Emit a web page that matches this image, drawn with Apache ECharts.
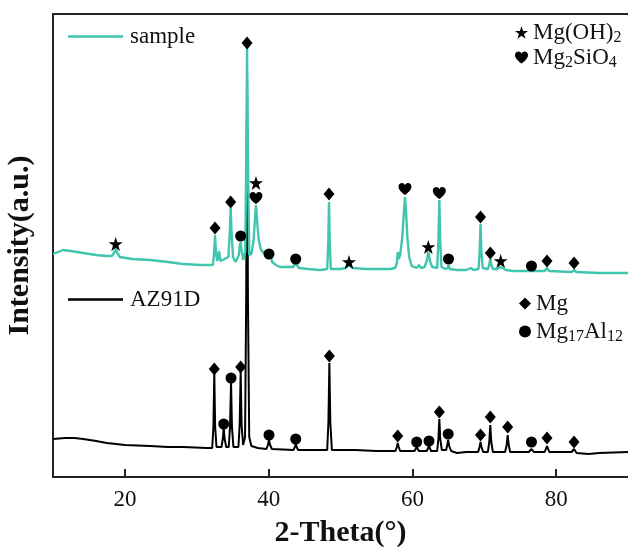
<!DOCTYPE html>
<html><head><meta charset="utf-8">
<script src="https://cdn.jsdelivr.net/npm/echarts@6/dist/echarts.min.js"></script>
<style>html,body{margin:0;padding:0;background:#fff}#c{width:628px;height:549px}</style>
</head><body><div id="c"></div>
<script>
const xTicks = [20, 40, 60, 80];

const az91d = [
[10.0,38],[11.7,39],[13,39],[14.2,38],[16,36],[17.5,34],[20,32],[23.5,31],[26,30],[28.1,30],[31.4,29],
[32.15,29],[32.32,50],[32.44,104],[32.56,50],[32.75,30],
[33.45,30],[33.62,38],[33.75,49],[33.88,38],[34.1,30],
[34.45,30],[34.63,50],[34.77,95],[34.9,50],[35.1,30],
[35.8,30],[35.97,52],[36.11,105],[36.24,52],[36.45,32],
[36.72,40],[36.88,180],[37.0,400],[37.12,180],[37.3,40],[37.6,31],[38.5,29],[39.7,28],[39.9,32],[40.05,37],[40.2,32],[40.45,28],
[43.45,27],[43.65,30],[43.77,33],[43.9,30],[44.1,27],[46,27],
[48.15,27],[48.32,55],[48.45,114],[48.58,55],[48.8,27],
[52,27],[55,26],[57.65,26],[57.84,30],[57.96,34],[58.1,30],[58.3,26],[60.3,26],[60.6,30],[60.9,26],[62.0,26],[62.31,31],[62.6,26],
[63.45,26],[63.62,38],[63.75,58],[63.88,38],[64.1,27],[64.7,27],[64.85,32],[64.98,37],[65.12,31],[65.4,26],[66.2,24],[67.5,25],
[69.15,25],[69.35,30],[69.48,35],[69.62,30],[69.85,25],[70.5,25],[70.7,35],[70.84,52],[70.98,35],[71.2,25],
[72.9,25],[73.12,32],[73.26,42],[73.4,32],[73.6,25],[76.2,25],[76.57,28],[76.9,25],[78.4,25],[78.73,31],[79.05,25],
[82.15,25],[82.49,28],[82.85,24],[84.5,23],[86,24],[90,25]
];

const sample = [
[10.0,223],[11.4,227],[12.5,226],[14.2,224],[16.0,222],[17.5,221],[18.2,221],[18.5,224],[18.72,229],[18.95,224],[19.3,220],
[21,218],[23.5,217],[26,215],[28.1,213],[30.5,212],[32.25,212],
[32.42,225],[32.54,242],[32.66,225],[32.85,216],[33.1,226],[33.3,216],[33.55,215],
[34.4,220],[34.6,245],[34.72,269],[34.84,245],[35.05,220],[35.4,215],
[35.85,222],[36.0,232],[36.11,235],[36.22,228],[36.45,217],
[36.75,225],[36.9,330],[37.0,429],[37.1,330],[37.3,222],
[37.6,223],[37.9,236],[38.1,258],[38.24,272],[38.38,258],[38.6,238],[38.9,228],[39.3,224],[39.7,222],[39.95,225],[40.05,226],[40.2,222],[40.5,215],
[41.0,212],[41.6,210],[43.4,210],[43.65,212],[43.77,214],[43.9,212],[44.2,209],[45.5,208],[47.15,207],
[48.15,208],[48.3,235],[48.4,275],[48.5,235],[48.65,208],
[50.0,208],[50.7,209],[51.18,212],[51.7,209],[53.5,208],[56.9,208],
[57.6,209],[57.85,214],[57.96,225],[58.1,218],[58.3,222],[58.6,240],[58.85,268],[58.97,280],[59.1,268],[59.3,240],[59.55,220],[59.9,211],
[60.6,209],[60.92,212],[61.2,209],
[61.7,210],[62.0,216],[62.22,225],[62.45,216],[62.75,210],[63.45,209],[63.62,235],[63.75,277],[63.88,235],[64.05,210],
[64.6,208],[64.9,209],[65.03,212],[65.2,208],[66.2,207],[67.5,207],[68.16,209],[68.5,207],
[69.2,208],[69.36,225],[69.48,253],[69.6,225],[69.8,209],[70.5,208],[70.7,212],[70.84,218],[70.98,212],[71.2,208],
[71.8,208],[72.1,210],[72.29,212],[72.55,209],[73.0,207],[74.0,206],[76.57,206],[78.4,206],[78.73,209],[79.0,206],
[82.2,205],[82.49,207],[82.8,205],[86,204],[90,204]
];

const mgPts = [
[32.54,249],[34.72,275],[37.0,434],[48.4,283],[69.48,260],[70.84,224],[78.73,216],[82.49,214],
[32.44,108],[36.11,110],[48.45,121],[57.96,41],[63.75,65],[69.48,42],[70.84,60],[73.26,50],[78.73,39],[82.49,35]
];
const mg17Al12Pts = [
[36.11,241],[40.05,223],[43.77,218],[65.03,218],[76.57,211],
[33.75,53],[34.77,99],[40.05,42],[43.77,38],[60.6,35],[62.31,36],[64.98,43],[76.57,35]
];
const mgOH2Pts = [[18.72,233],[38.24,294],[51.18,215],[62.22,230],[72.29,216]];
const mg2SiO4Pts = [[38.24,279],[58.97,288],[63.75,284]];

const STAR = 'path://M50,0 L61.8,35.1 L98.9,35.1 L68.8,57 L80.2,92.7 L50,70.5 L19.8,92.7 L31.2,57 L1.1,35.1 L38.2,35.1 Z';
const HEART = 'path://M50,92 C44,86 0,58 0,28 C0,10 13,0 27,0 C38,0 46,7 50,17 C54,7 62,0 73,0 C87,0 100,10 100,28 C100,58 56,86 50,92 Z';

const FONT = 'Liberation Serif';
const TEAL = '#41c5ae';
const axisLineStyle = { color: '#222', width: 2 };

const richStyles = {
  n: { fontFamily: FONT, fontSize: 23, lineHeight: 26, color: '#111' },
  s: { fontFamily: FONT, fontSize: 16, lineHeight: 13, verticalAlign: 'bottom', color: '#111' }
};
const phaseLabel = {
  'Mg(OH)2': '{n|Mg(OH)}{s|2}',
  'Mg2SiO4': '{n|Mg}{s|2}{n|SiO}{s|4}',
  'Mg': '{n|Mg}',
  'Mg17Al12': '{n|Mg}{s|17}{n|Al}{s|12}'
};

const chart = echarts.init(document.getElementById('c'), null, { renderer: 'canvas' });
chart.setOption({
  animation: false,
  backgroundColor: '#fff',
  grid: { left: 53, right: 0, top: 14, bottom: 72, containLabel: false, outerBoundsMode: 'none' },
  legend: [
    { data: [{ name: 'sample', icon: 'rect' }], left: 68, top: 25, padding: 0, itemWidth: 55, itemHeight: 2.5,
      textStyle: { fontFamily: FONT, fontSize: 23, color: '#111', padding: [0, 0, 0, 2] } },
    { data: [{ name: 'AZ91D', icon: 'rect' }], left: 68, top: 288, padding: 0, itemWidth: 55, itemHeight: 2.5,
      textStyle: { fontFamily: FONT, fontSize: 23, color: '#111', padding: [0, 0, 0, 2] } },
    { data: ['Mg(OH)2', 'Mg2SiO4'], orient: 'vertical', left: 515, top: 21, padding: 0, itemWidth: 13, itemHeight: 13, itemGap: 0.5,
      formatter: n => phaseLabel[n], textStyle: { rich: richStyles } },
    { data: ['Mg', 'Mg17Al12'], orient: 'vertical', left: 519, top: 292, padding: 0, itemWidth: 12, itemHeight: 12, itemGap: 5,
      formatter: n => phaseLabel[n], textStyle: { rich: richStyles } }
  ],
  xAxis: [
    { type: 'value', min: 10, max: 90, position: 'bottom',
      name: '2-Theta(°)', nameLocation: 'middle', nameGap: 41,
      nameTextStyle: { fontFamily: FONT, fontWeight: 'bold', fontSize: 30, color: '#111' },
      axisLine: { lineStyle: axisLineStyle },
      axisTick: { inside: true, length: 8, customValues: xTicks, lineStyle: axisLineStyle },
      axisLabel: { customValues: xTicks, margin: 11, fontFamily: FONT, fontSize: 23, color: '#111' },
      splitLine: { show: false } },
    { type: 'value', min: 10, max: 90, position: 'top',
      axisLine: { show: true, lineStyle: axisLineStyle },
      axisTick: { show: false }, axisLabel: { show: false }, splitLine: { show: false } }
  ],
  yAxis: {
    type: 'value', min: 0, max: 463,
    name: 'Intensity(a.u.)', nameLocation: 'middle', nameGap: 18,
    nameTextStyle: { fontFamily: FONT, fontWeight: 'bold', fontSize: 30, color: '#111' },
    axisLine: { show: true, lineStyle: axisLineStyle },
    axisTick: { show: false }, axisLabel: { show: false }, splitLine: { show: false }
  },
  series: [
    { name: 'AZ91D', type: 'line', data: az91d, symbol: 'none', z: 2,
      lineStyle: { color: '#000', width: 2 }, itemStyle: { color: '#000' } },
    { name: 'sample', type: 'line', data: sample, symbol: 'none', z: 3,
      lineStyle: { color: TEAL, width: 2.4 }, itemStyle: { color: TEAL } },
    { name: 'Mg', type: 'scatter', data: mgPts, symbol: 'diamond', symbolSize: [11, 13], z: 5,
      itemStyle: { color: '#000', opacity: 1 } },
    { name: 'Mg17Al12', type: 'scatter', data: mg17Al12Pts, symbol: 'circle', symbolSize: 11, z: 5,
      itemStyle: { color: '#000', opacity: 1 } },
    { name: 'Mg(OH)2', type: 'scatter', data: mgOH2Pts, symbol: STAR, symbolSize: 14, z: 5,
      itemStyle: { color: '#000', opacity: 1 } },
    { name: 'Mg2SiO4', type: 'scatter', data: mg2SiO4Pts, symbol: HEART, symbolSize: [13, 12], z: 5,
      itemStyle: { color: '#000', opacity: 1 } }
  ]
});
</script>
</body></html>
